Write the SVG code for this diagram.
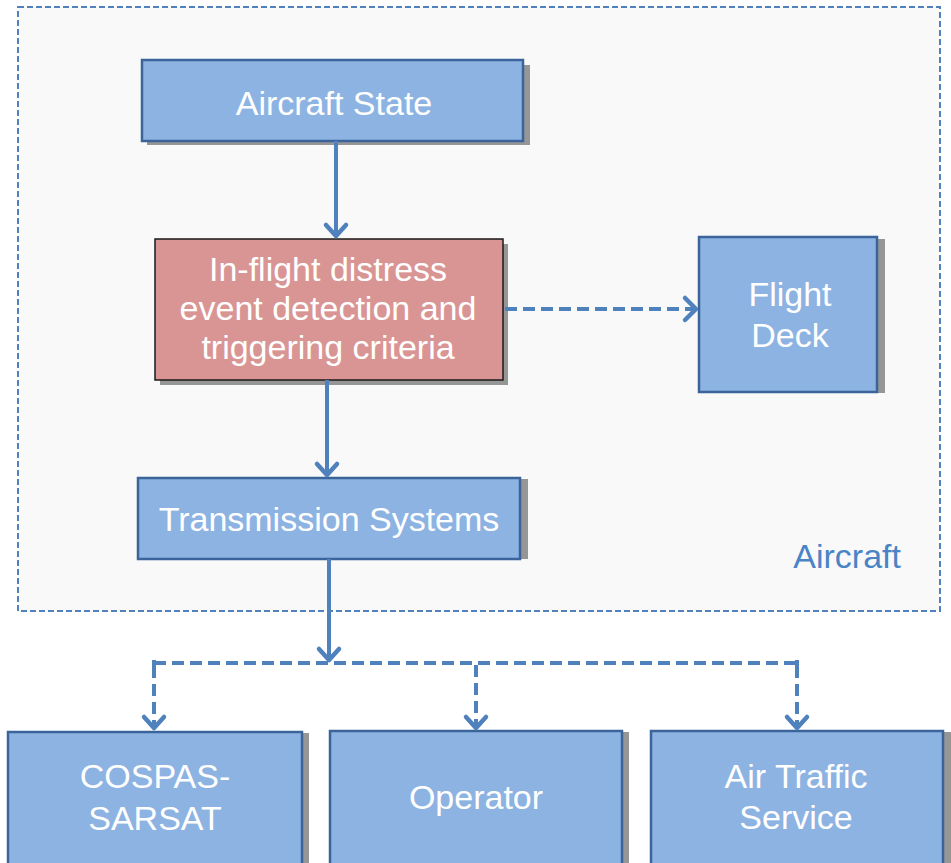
<svg xmlns="http://www.w3.org/2000/svg" width="951" height="863" viewBox="0 0 951 863">
<style>
.box{fill:#8db3e2;stroke:#3b649a;stroke-width:2.5}
.red{fill:#d99594;stroke:#1a1a1a;stroke-width:1.5}
.sh{fill:#969696}
.t{font-family:"Liberation Sans",Arial,sans-serif;font-size:34px;fill:#ffffff;text-anchor:middle}
.c{fill:none;stroke:#4f81bd;stroke-width:4}
.d{stroke-dasharray:12 6}
.ah{fill:none;stroke:#4f81bd;stroke-width:4.5;stroke-linecap:round;stroke-linejoin:round}
</style>
<rect width="951" height="863" fill="#ffffff"/>
<g id="aircraft-frame">
<rect x="18" y="7" width="922" height="604" fill="#f9f9f9" stroke="#4f81bd" stroke-width="2" stroke-dasharray="6 3"/>
<text x="901" y="568" font-family="Liberation Sans,Arial,sans-serif" font-size="34" fill="#4a84c6" text-anchor="end">Aircraft</text>
</g>
<g id="aircraft-state">
<rect class="sh" x="147" y="65" width="383" height="80"/>
<rect class="box" x="142" y="60" width="381" height="81"/>
<text class="t" x="334" y="115">Aircraft State</text>
</g>
<g id="detection">
<rect class="sh" x="160" y="244" width="348" height="141"/>
<rect class="red" x="155" y="239" width="348" height="141"/>
<text class="t" x="328" y="281">In-flight distress</text>
<text class="t" x="328" y="320">event detection and</text>
<text class="t" x="328" y="359">triggering criteria</text>
</g>
<g id="flight-deck">
<rect class="sh" x="705" y="239" width="180" height="154"/>
<rect class="box" x="699" y="237" width="178" height="155"/>
<text class="t" x="790" y="306">Flight</text>
<text class="t" x="790" y="347">Deck</text>
</g>
<g id="transmission">
<rect class="sh" x="143" y="479" width="385" height="80"/>
<rect class="box" x="138" y="478" width="382" height="81"/>
<text class="t" x="329" y="531">Transmission Systems</text>
</g>
<g id="cospas">
<rect class="sh" x="13" y="733" width="296" height="135"/>
<rect class="box" x="8" y="732" width="294" height="135"/>
<text class="t" x="155" y="788">COSPAS-</text>
<text class="t" x="155" y="830">SARSAT</text>
</g>
<g id="operator">
<rect class="sh" x="335" y="732" width="294" height="135"/>
<rect class="box" x="330" y="731" width="292" height="135"/>
<text class="t" x="476" y="809">Operator</text>
</g>
<g id="ats">
<rect class="sh" x="656" y="732" width="295" height="135"/>
<rect class="box" x="651" y="731" width="292" height="135"/>
<text class="t" x="796" y="788">Air Traffic</text>
<text class="t" x="796" y="829">Service</text>
</g>
<g id="connectors">
<path class="c" d="M336 141 V237"/>
<path class="ah" d="M326 225 L336 236 L346 225"/>
<path class="c" d="M327 380 V476"/>
<path class="ah" d="M317 464 L327 475 L337 464"/>
<path class="c d" d="M505 309 H695"/>
<path class="ah" d="M685 298 L696 309 L685 320"/>
<path class="c" d="M329 559 V660"/>
<path class="ah" d="M319 649 L329 660 L339 649"/>
<path class="c d" d="M154 663 H797"/>
<path class="c" d="M154 660 V666 M797 660 V666"/>
<path class="c d" d="M154 666 V728"/>
<path class="ah" d="M144 717 L154 728 L164 717"/>
<path class="c d" d="M476 665 V728"/>
<path class="ah" d="M466 717 L476 728 L486 717"/>
<path class="c d" d="M797 666 V728"/>
<path class="ah" d="M787 717 L797 728 L807 717"/>
</g>
</svg>
